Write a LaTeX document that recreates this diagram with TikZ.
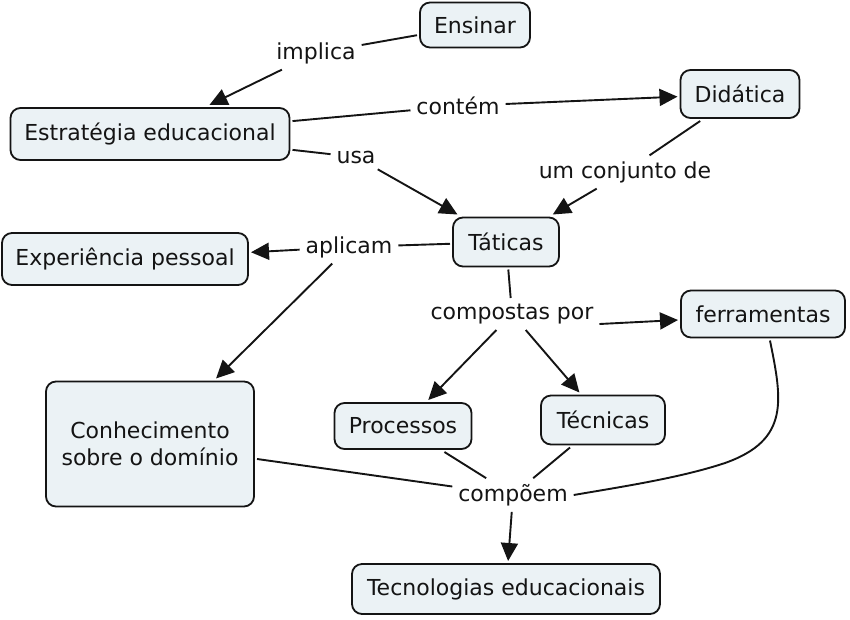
\documentclass[tikz,border=0pt]{standalone}
\usepackage{fontspec}
\setmainfont{DejaVu Sans}
\usetikzlibrary{arrows.meta}
\definecolor{boxfill}{RGB}{235,242,245}
\definecolor{ink}{RGB}{20,20,20}
\begin{document}
\begin{tikzpicture}[x=1pt,y=-1pt,
  concept/.style={draw=ink,line width=1.8pt,fill=boxfill,rounded corners=10pt,
    font=\fontsize{22}{27}\selectfont,align=center,inner sep=0pt,outer sep=3pt,text=ink},
  phrase/.style={font=\fontsize{22}{27}\selectfont,inner sep=5pt,outer sep=1pt,text=ink},
  link/.style={draw=ink,line width=1.9pt},
  arr/.style={link,-{Triangle[length=18pt,width=17pt]}}]
\useasboundingbox (0,0) rectangle (850,619);
% concepts
\node[concept,minimum width=110pt,minimum height=45pt] (ens) at (475,25) {Ensinar};
\node[concept,minimum width=119pt,minimum height=48pt] (did) at (740,94) {Didática};
\node[concept,minimum width=279pt,minimum height=52pt] (est) at (150,134) {Estratégia educacional};
\node[concept,minimum width=106pt,minimum height=49pt] (tat) at (506,242) {Táticas};
\node[concept,minimum width=246pt,minimum height=52pt] (exp) at (125,259) {Experiência pessoal};
\node[concept,minimum width=164pt,minimum height=47pt] (fer) at (763,314) {ferramentas};
\node[concept,minimum width=208pt,minimum height=125pt] (con) at (150,444) {Conhecimento\\sobre o domínio};
\node[concept,minimum width=137pt,minimum height=46pt] (pro) at (403,426) {Processos};
\node[concept,minimum width=124pt,minimum height=49pt] (tec) at (603,420) {Técnicas};
\node[concept,minimum width=308pt,minimum height=50pt] (tev) at (506,589) {Tecnologias educacionais};
% linking phrases
\node[phrase] (imp) at (316,53) {implica};
\node[phrase] (cnt) at (458,106) {contém};
\node[phrase] (usa) at (356,157) {usa};
\node[phrase] (umc) at (625,172) {um conjunto de};
\node[phrase] (apl) at (349,247) {aplicam};
\node[phrase] (cps) at (512,314) {compostas por};
\node[phrase] (cpm) at (513,495) {compõem};
% connectors
\draw[link] (ens) -- (imp);
\draw[arr] (imp) -- (est);
\draw[link] (est) -- (cnt);
\draw[arr] (cnt) -- (did);
\draw[link] (est) -- (usa);
\draw[arr] (usa) -- (tat);
\draw[link] (did) -- (umc);
\draw[arr] (umc) -- (tat);
\draw[link] (tat) -- (apl);
\draw[arr] (apl) -- (exp);
\draw[arr] (apl) -- (con);
\draw[link] (tat) -- (cps);
\draw[arr] (cps) -- (pro);
\draw[arr] (cps) -- (tec);
\draw[arr] ([yshift=-10pt]cps.east) -- ([yshift=-6pt]fer.west);
\draw[link] (pro) -- (cpm);
\draw[link] (tec) -- (cpm);
\draw[link] (con) -- (cpm);
\draw[link] ([xshift=7pt]fer.south) .. controls (782,400) and (790,440) .. (725,463)
  .. controls (680,478) and (620,487) .. (cpm.east);
\draw[arr] (cpm) -- (tev);
\end{tikzpicture}
\end{document}
